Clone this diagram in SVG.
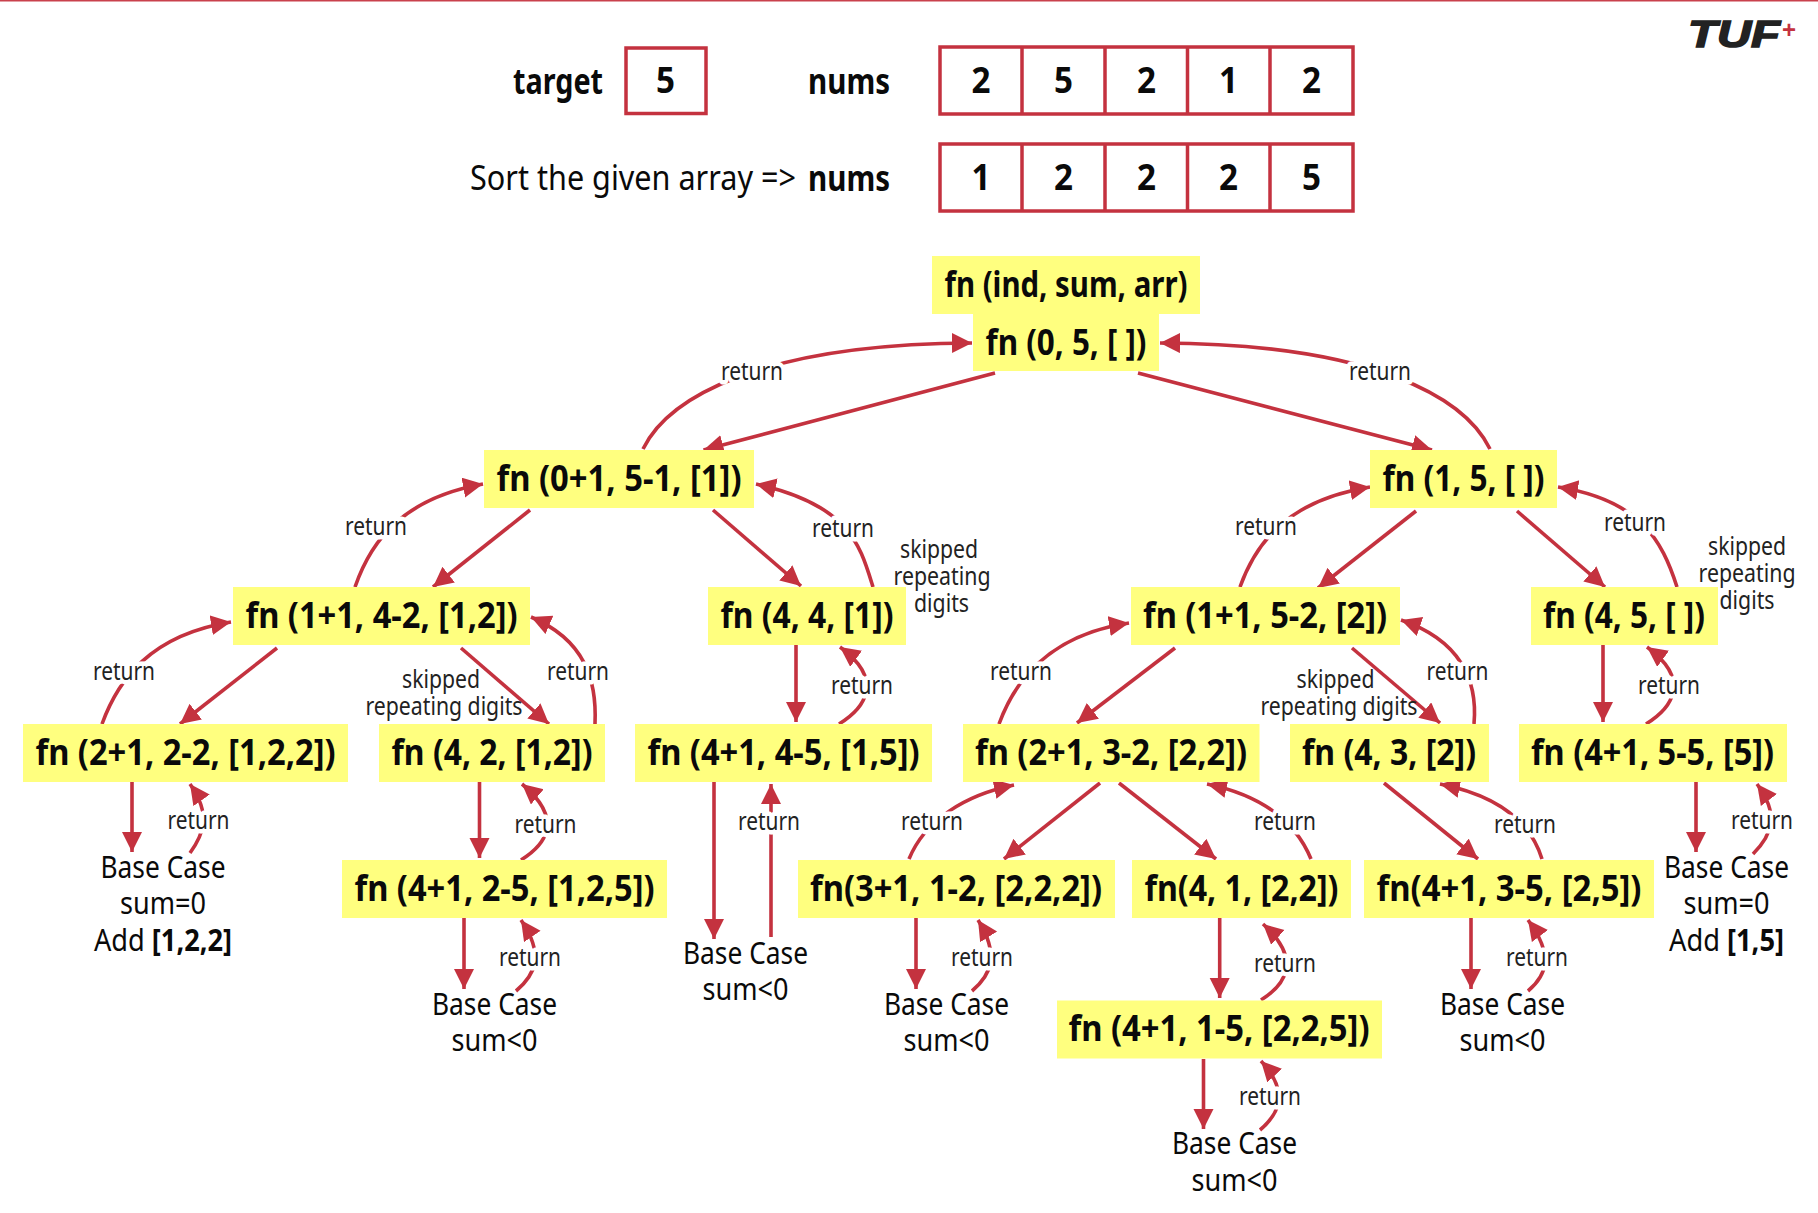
<svg xmlns="http://www.w3.org/2000/svg" width="1818" height="1213" viewBox="0 0 1818 1213">
<style>
text{font-family:"Noto Sans","Open Sans","Liberation Sans",sans-serif;fill:#0a0a0a;text-anchor:middle}
.b{font-weight:700}
.h{font-size:35px;font-weight:700}
.n{font-weight:700;font-size:35px}
.t{font-size:30px;font-weight:400}
.r{font-size:25px;font-weight:400;fill:#222;paint-order:stroke;stroke:#fff;stroke-width:9px;stroke-linejoin:round}
.s{font-size:25px;font-weight:400;fill:#222}
.box{fill:#fff;stroke:#c4323f;stroke-width:3.5}
.y{fill:#ffff7f}
#connectors path{fill:none;stroke:#c4323f;stroke-width:3.6;marker-end:url(#a)}
</style>
<defs><marker id="a" markerUnits="userSpaceOnUse" markerWidth="24" markerHeight="22" refX="20" refY="10" orient="auto"><path d="M0 0L20 10L0 20Z" fill="#c4323f"/></marker></defs>
<rect width="1818" height="1213" fill="#fff"/>
<rect width="1818" height="1.500" fill="#c9414c"/>
<g id="logo"><text x="1688" y="47" style="text-anchor:start;font-family:'Liberation Sans',sans-serif;font-weight:700;font-style:italic;font-size:37px;fill:#222;stroke:#222;stroke-width:1.5" textLength="92" lengthAdjust="spacingAndGlyphs">TUF</text><text x="1789" y="38" style="font-family:'Liberation Sans',sans-serif;font-weight:700;font-size:24px;fill:#c4323f">+</text></g>
<g id="header">
<rect class="box" x="626" y="48" width="80" height="65.500"/>
<g class="box"><rect x="940" y="47" width="413" height="67"/><path d="M1022 47V114M1105 47V114M1187.500 47V114M1270 47V114" fill="none"/></g>
<g class="box"><rect x="940" y="144" width="413" height="67"/><path d="M1022 144V211M1105 144V211M1187.500 144V211M1270 144V211" fill="none"/></g>
<text class="h" x="558" y="94" textLength="90" lengthAdjust="spacingAndGlyphs">target</text>
<text class="h" x="665.500" y="93" textLength="19" lengthAdjust="spacingAndGlyphs">5</text>
<text class="h" x="849" y="94" textLength="82" lengthAdjust="spacingAndGlyphs">nums</text>
<text class="h" x="981" y="93" textLength="19" lengthAdjust="spacingAndGlyphs">2</text><text class="h" x="1063.500" y="93" textLength="19" lengthAdjust="spacingAndGlyphs">5</text><text class="h" x="1146.500" y="93" textLength="19" lengthAdjust="spacingAndGlyphs">2</text><text class="h" x="1228.500" y="93" textLength="19" lengthAdjust="spacingAndGlyphs">1</text><text class="h" x="1311.500" y="93" textLength="19" lengthAdjust="spacingAndGlyphs">2</text>
<text font-size="34" x="633" y="190" textLength="326" lengthAdjust="spacingAndGlyphs">Sort the given array =&gt;</text>
<text class="h" x="849" y="191" textLength="82" lengthAdjust="spacingAndGlyphs">nums</text>
<text class="h" x="981" y="190" textLength="19" lengthAdjust="spacingAndGlyphs">1</text><text class="h" x="1063.500" y="190" textLength="19" lengthAdjust="spacingAndGlyphs">2</text><text class="h" x="1146.500" y="190" textLength="19" lengthAdjust="spacingAndGlyphs">2</text><text class="h" x="1228.500" y="190" textLength="19" lengthAdjust="spacingAndGlyphs">2</text><text class="h" x="1311.500" y="190" textLength="19" lengthAdjust="spacingAndGlyphs">5</text>
</g>
<g id="connectors">
<path d="M995 373L703.500 450"/><path d="M643 449C668 398 760 344 972 343"/>
<path d="M1138 373L1432 450"/><path d="M1490 449C1465 398 1375 344 1160 343"/>
<path d="M530 510L433 587"/><path d="M355 587C372 538 405 498 483 484"/>
<path d="M277 648L180 724"/><path d="M102 724C118 680 150 635 231 622"/>
<path d="M461 648L549 724"/><path d="M595 724C597 680 585 640 531 617"/>
<path d="M132 782V852"/><path d="M190 853C203 835 212 815 190 784"/>
<path d="M479.500 782V858"/><path d="M521 860C545 845 565 820 522 784"/>
<path d="M464 918V989"/><path d="M516 991C535 975 545 955 521 920"/>
<path d="M713 510L801 586"/><path d="M873 587C860 545 850 505 756 484"/>
<path d="M796 644V722"/><path d="M839 724C865 708 885 680 840 647"/>
<path d="M714 782V939"/><path d="M771 937V784"/>
<path d="M1416 511L1318 588"/><path d="M1240 587C1257 540 1290 500 1370 487"/>
<path d="M1517 511L1605 587"/><path d="M1677 587C1662 540 1640 500 1558 487"/>
<path d="M1603 644V722"/><path d="M1646 724C1672 708 1692 680 1647 647"/>
<path d="M1175 648L1077 723"/><path d="M999 724C1015 680 1050 635 1129 623"/>
<path d="M1352 648L1440 723"/><path d="M1474 724C1478 680 1460 640 1401 620"/>
<path d="M1100 783L1004 859"/><path d="M909 859C925 820 965 795 1014 785"/>
<path d="M1119 783L1216 859"/><path d="M1311 859C1295 820 1260 795 1207 784"/>
<path d="M916 918V989"/><path d="M972 991C991 975 1000 955 978 920"/>
<path d="M1219.700 918V998"/><path d="M1261 1000C1285 985 1303 960 1263 924"/>
<path d="M1203.500 1059V1129"/><path d="M1260 1130C1279 1114 1290 1092 1261 1061"/>
<path d="M1384 783L1478 859"/><path d="M1542 859C1530 820 1495 795 1440 784"/>
<path d="M1471 918V989"/><path d="M1528 991C1547 975 1554 955 1528 920"/>
<path d="M1696 782V852"/><path d="M1753 854C1772 835 1780 815 1757 784"/>
</g>
<g id="n-header"><rect class="y" x="932" y="256" width="268" height="58"/><text class="n" x="1066" y="297" textLength="243" lengthAdjust="spacingAndGlyphs">fn (ind, sum, arr)</text></g>
<g id="n-root"><rect class="y" x="973" y="313" width="186" height="58"/><text class="n" x="1066" y="355" textLength="161" lengthAdjust="spacingAndGlyphs">fn (0, 5, [ ])</text></g>
<g id="n-a"><rect class="y" x="484" y="450" width="270" height="58"/><text class="n" x="619" y="491" textLength="245" lengthAdjust="spacingAndGlyphs">fn (0+1, 5-1, [1])</text></g>
<g id="n-b"><rect class="y" x="1370" y="450" width="187" height="58"/><text class="n" x="1463.500" y="491" textLength="162" lengthAdjust="spacingAndGlyphs">fn (1, 5, [ ])</text></g>
<g id="n-c"><rect class="y" x="233" y="587" width="297" height="58"/><text class="n" x="381.500" y="628" textLength="272" lengthAdjust="spacingAndGlyphs">fn (1+1, 4-2, [1,2])</text></g>
<g id="n-d"><rect class="y" x="708" y="587" width="198" height="58"/><text class="n" x="807" y="628" textLength="173" lengthAdjust="spacingAndGlyphs">fn (4, 4, [1])</text></g>
<g id="n-e"><rect class="y" x="1131" y="587" width="269" height="58"/><text class="n" x="1265" y="628" textLength="244" lengthAdjust="spacingAndGlyphs">fn (1+1, 5-2, [2])</text></g>
<g id="n-f"><rect class="y" x="1531" y="587" width="187" height="58"/><text class="n" x="1624" y="628" textLength="162" lengthAdjust="spacingAndGlyphs">fn (4, 5, [ ])</text></g>
<g id="n-g"><rect class="y" x="23" y="724" width="325" height="58"/><text class="n" x="185.500" y="765" textLength="300" lengthAdjust="spacingAndGlyphs">fn (2+1, 2-2, [1,2,2])</text></g>
<g id="n-h"><rect class="y" x="379" y="724" width="226" height="58"/><text class="n" x="492" y="765" textLength="201" lengthAdjust="spacingAndGlyphs">fn (4, 2, [1,2])</text></g>
<g id="n-i"><rect class="y" x="635" y="724" width="297" height="58"/><text class="n" x="783.500" y="765" textLength="272" lengthAdjust="spacingAndGlyphs">fn (4+1, 4-5, [1,5])</text></g>
<g id="n-j"><rect class="y" x="963" y="724" width="296.500" height="58"/><text class="n" x="1111" y="765" textLength="272" lengthAdjust="spacingAndGlyphs">fn (2+1, 3-2, [2,2])</text></g>
<g id="n-k"><rect class="y" x="1290" y="724" width="199" height="58"/><text class="n" x="1389" y="765" textLength="174" lengthAdjust="spacingAndGlyphs">fn (4, 3, [2])</text></g>
<g id="n-l"><rect class="y" x="1519" y="724" width="268" height="58"/><text class="n" x="1652.500" y="765" textLength="243" lengthAdjust="spacingAndGlyphs">fn (4+1, 5-5, [5])</text></g>
<g id="n-m"><rect class="y" x="342" y="860" width="325" height="58"/><text class="n" x="504.500" y="901" textLength="300" lengthAdjust="spacingAndGlyphs">fn (4+1, 2-5, [1,2,5])</text></g>
<g id="n-o"><rect class="y" x="798" y="860" width="317" height="58"/><text class="n" x="956" y="901" textLength="292" lengthAdjust="spacingAndGlyphs">fn(3+1, 1-2, [2,2,2])</text></g>
<g id="n-p"><rect class="y" x="1132" y="860" width="219" height="58"/><text class="n" x="1241.500" y="901" textLength="194" lengthAdjust="spacingAndGlyphs">fn(4, 1, [2,2])</text></g>
<g id="n-q"><rect class="y" x="1364" y="860" width="290" height="58"/><text class="n" x="1509" y="901" textLength="265" lengthAdjust="spacingAndGlyphs">fn(4+1, 3-5, [2,5])</text></g>
<g id="n-r"><rect class="y" x="1057" y="1000.500" width="325" height="58"/><text class="n" x="1219" y="1041" textLength="301" lengthAdjust="spacingAndGlyphs">fn (4+1, 1-5, [2,2,5])</text></g>
<g id="base-1"><text class="t" x="163" y="878" textLength="125" lengthAdjust="spacingAndGlyphs">Base Case</text><text class="t" x="163" y="914" textLength="86" lengthAdjust="spacingAndGlyphs">sum=0</text><text class="t" x="163" y="951" textLength="138" lengthAdjust="spacingAndGlyphs">Add <tspan class="b">[1,2,2]</tspan></text></g>
<g id="base-2"><text class="t" x="494.500" y="1015" textLength="125" lengthAdjust="spacingAndGlyphs">Base Case</text><text class="t" x="494.500" y="1051" textLength="86" lengthAdjust="spacingAndGlyphs">sum&lt;0</text></g>
<g id="base-3"><text class="t" x="745.500" y="964" textLength="125" lengthAdjust="spacingAndGlyphs">Base Case</text><text class="t" x="745.500" y="1000" textLength="86" lengthAdjust="spacingAndGlyphs">sum&lt;0</text></g>
<g id="base-4"><text class="t" x="946.500" y="1015" textLength="125" lengthAdjust="spacingAndGlyphs">Base Case</text><text class="t" x="946.500" y="1051" textLength="86" lengthAdjust="spacingAndGlyphs">sum&lt;0</text></g>
<g id="base-5"><text class="t" x="1234.500" y="1154" textLength="125" lengthAdjust="spacingAndGlyphs">Base Case</text><text class="t" x="1234.500" y="1191" textLength="86" lengthAdjust="spacingAndGlyphs">sum&lt;0</text></g>
<g id="base-6"><text class="t" x="1502.500" y="1015" textLength="125" lengthAdjust="spacingAndGlyphs">Base Case</text><text class="t" x="1502.500" y="1051" textLength="86" lengthAdjust="spacingAndGlyphs">sum&lt;0</text></g>
<g id="base-7"><text class="t" x="1726.500" y="878" textLength="125" lengthAdjust="spacingAndGlyphs">Base Case</text><text class="t" x="1726.500" y="914" textLength="86" lengthAdjust="spacingAndGlyphs">sum=0</text><text class="t" x="1726.500" y="951" textLength="115" lengthAdjust="spacingAndGlyphs">Add <tspan class="b">[1,5]</tspan></text></g>
<g id="labels">
<text class="r" x="752" y="380" textLength="62" lengthAdjust="spacingAndGlyphs">return</text>
<text class="r" x="1380" y="380" textLength="62" lengthAdjust="spacingAndGlyphs">return</text>
<text class="r" x="376" y="535" textLength="62" lengthAdjust="spacingAndGlyphs">return</text>
<text class="r" x="843" y="537" textLength="62" lengthAdjust="spacingAndGlyphs">return</text>
<text class="r" x="1266" y="535" textLength="62" lengthAdjust="spacingAndGlyphs">return</text>
<text class="r" x="1635" y="531" textLength="62" lengthAdjust="spacingAndGlyphs">return</text>
<text class="r" x="124" y="680" textLength="62" lengthAdjust="spacingAndGlyphs">return</text>
<text class="r" x="578" y="680" textLength="62" lengthAdjust="spacingAndGlyphs">return</text>
<text class="r" x="1021" y="680" textLength="62" lengthAdjust="spacingAndGlyphs">return</text>
<text class="r" x="1457.500" y="680" textLength="62" lengthAdjust="spacingAndGlyphs">return</text>
<text class="r" x="862" y="694" textLength="62" lengthAdjust="spacingAndGlyphs">return</text>
<text class="r" x="1669" y="694" textLength="62" lengthAdjust="spacingAndGlyphs">return</text>
<text class="r" x="198.500" y="829" textLength="62" lengthAdjust="spacingAndGlyphs">return</text>
<text class="r" x="545.500" y="833" textLength="62" lengthAdjust="spacingAndGlyphs">return</text>
<text class="r" x="769" y="830" textLength="62" lengthAdjust="spacingAndGlyphs">return</text>
<text class="r" x="932" y="830" textLength="62" lengthAdjust="spacingAndGlyphs">return</text>
<text class="r" x="1285" y="830" textLength="62" lengthAdjust="spacingAndGlyphs">return</text>
<text class="r" x="1525" y="833" textLength="62" lengthAdjust="spacingAndGlyphs">return</text>
<text class="r" x="1762" y="829" textLength="62" lengthAdjust="spacingAndGlyphs">return</text>
<text class="r" x="530" y="966" textLength="62" lengthAdjust="spacingAndGlyphs">return</text>
<text class="r" x="982" y="966" textLength="62" lengthAdjust="spacingAndGlyphs">return</text>
<text class="r" x="1285" y="972" textLength="62" lengthAdjust="spacingAndGlyphs">return</text>
<text class="r" x="1537" y="966" textLength="62" lengthAdjust="spacingAndGlyphs">return</text>
<text class="r" x="1270" y="1105" textLength="62" lengthAdjust="spacingAndGlyphs">return</text>
<text class="s"><tspan x="939" y="558" textLength="78" lengthAdjust="spacingAndGlyphs">skipped</tspan><tspan x="942" y="585" textLength="97" lengthAdjust="spacingAndGlyphs">repeating</tspan><tspan x="941.500" y="612" textLength="55" lengthAdjust="spacingAndGlyphs">digits</tspan></text>
<text class="s"><tspan x="1747" y="555" textLength="78" lengthAdjust="spacingAndGlyphs">skipped</tspan><tspan x="1747" y="582" textLength="97" lengthAdjust="spacingAndGlyphs">repeating</tspan><tspan x="1747" y="609" textLength="55" lengthAdjust="spacingAndGlyphs">digits</tspan></text>
<text class="s"><tspan x="441" y="688" textLength="78" lengthAdjust="spacingAndGlyphs">skipped</tspan><tspan x="444" y="715" textLength="157" lengthAdjust="spacingAndGlyphs">repeating digits</tspan></text>
<text class="s"><tspan x="1335.500" y="688" textLength="78" lengthAdjust="spacingAndGlyphs">skipped</tspan><tspan x="1339" y="715" textLength="157" lengthAdjust="spacingAndGlyphs">repeating digits</tspan></text>
</g>
</svg>
